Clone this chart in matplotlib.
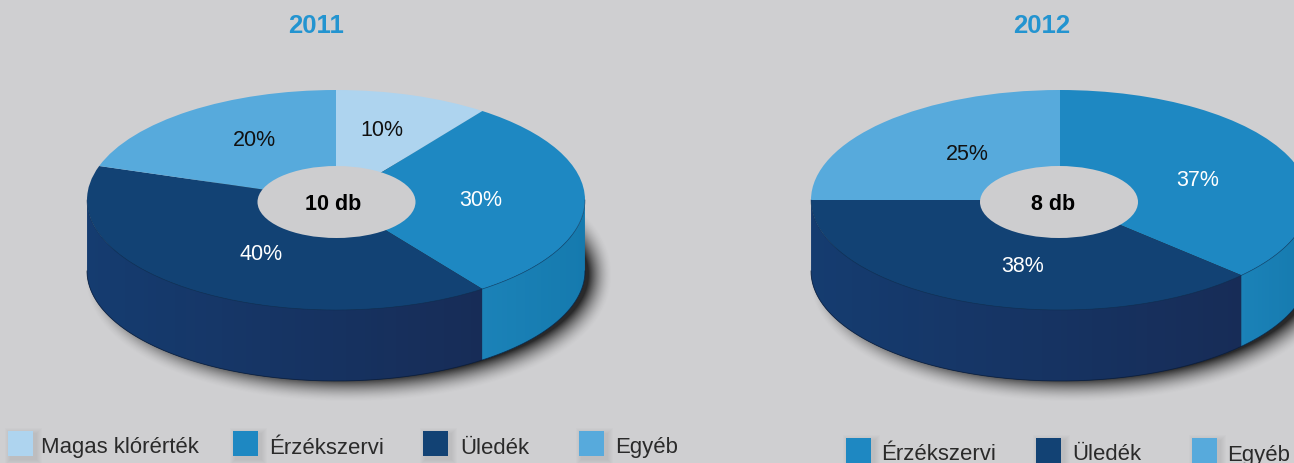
import numpy as np
import matplotlib
matplotlib.use("Agg")
import matplotlib.pyplot as plt
from matplotlib.patches import Ellipse, Rectangle

plt.rcParams['font.family'] = ['Liberation Sans', 'DejaVu Sans']

W, H = 1294, 463
BG = "#cfcfd1"

labels_2011 = ["Magas klórérték", "Érzékszervi", "Üledék", "Egyéb"]
values_2011 = [10, 30, 40, 20]
colors_2011 = ["#aed4ef", "#1e88c2", "#124274", "#57aadc"]
total_2011 = "10 db"

labels_2012 = ["Érzékszervi", "Üledék", "Egyéb"]
values_2012 = [37, 38, 25]
colors_2012 = ["#1e88c2", "#124274", "#57aadc"]
total_2012 = "8 db"

# side colours of each slice (left end, right end)
side_colors = {"#1e88c2": ("#1b82b8", "#157aae"), "#124274": ("#153c70", "#172c57"),
               "#57aadc": ("#4a9ccc", "#4a9ccc"), "#aed4ef": ("#9cc6e4", "#9cc6e4")}

fig = plt.figure(figsize=(W / 100, H / 100), dpi=100, facecolor=BG)
base = fig.add_axes([0, 0, 1, 1])
base.set_xlim(0, W)
base.set_ylim(H, 0)
base.axis("off")


def mix(a, b, t):
    a = np.array(matplotlib.colors.to_rgb(a))
    b = np.array(matplotlib.colors.to_rgb(b))
    return tuple(a + (b - a) * t)


def shadow(cx, cy, rx, ry, fade, strength):
    # blurred ellipse as an rgba image
    x0, x1 = int(cx - rx - fade - 4), int(cx + rx + fade + 4)
    y0, y1 = int(cy - ry - fade - 4), int(cy + ry + fade + 4)
    xx, yy = np.meshgrid(np.arange(x0, x1), np.arange(y0, y1))
    dx, dy = xx - cx, yy - cy
    f = np.sqrt((dx / rx) ** 2 + (dy / ry) ** 2) + 1e-6
    grad = np.sqrt((dx / rx ** 2) ** 2 + (dy / ry ** 2) ** 2) / f + 1e-9
    dist = (f - 1) / grad
    a = np.clip(1 - dist / fade, 0, 1) ** 1.7 * strength
    img = np.zeros(a.shape + (4,))
    img[..., 3] = a
    base.imshow(img, extent=(x0, x1, y1, y0), aspect="auto", zorder=1, interpolation="bilinear")
    base.set_xlim(0, W)
    base.set_ylim(H, 0)


def draw_pie(cx, values, colors, title, title_x, total, total_x, hole_x, pct_pos, pct_colors):
    rx, ry, depth = 249, 110, 71
    cy = 200
    shadow(cx + 12, cy + depth + 3, 240, 104, 24, 0.8)

    ax = fig.add_axes([0, 0, 1, 1])
    ax.patch.set_alpha(0)
    wedges, _ = ax.pie(values, colors=colors, startangle=90, counterclock=False,
                       radius=1, center=(0, 0), wedgeprops={"linewidth": 0})
    ax.set_aspect("auto")
    ax.set_xlim(-cx / rx, (W - cx) / rx)
    ax.set_ylim((cy - H) / ry, cy / ry)
    ax.axis("off")

    # side wall of the cylinder, strips overlap the next one so no gaps show
    d = depth / ry
    edges = np.cumsum([0] + values) / sum(values) * 2 * np.pi
    for k, col in enumerate(colors):
        a0, a1 = max(edges[k], np.pi / 2), min(edges[k + 1], 3 * np.pi / 2)
        if a1 <= a0:
            continue
        left, right = side_colors[col]
        steps = np.linspace(a0, a1, max(int((a1 - a0) * 40), 2))
        x_lo, x_hi = np.sin(a1), np.sin(a0)
        for i in range(len(steps) - 1):
            s = np.linspace(steps[i], steps[min(i + 2, len(steps) - 1)], 8)
            t = (np.sin(steps[i]) + np.sin(steps[i + 1])) / 2
            t = (t - x_lo) / max(x_hi - x_lo, 1e-6)
            c = mix(left, right, t)
            xs = np.concatenate([np.sin(s), np.sin(s[::-1])])
            ys = np.concatenate([np.cos(s), np.cos(s[::-1]) - d])
            ax.fill(xs, ys, color=c, lw=0, zorder=0.5 + i * 1e-3)
    # thin dark rims
    th = np.linspace(np.pi / 2, 3 * np.pi / 2, 200)
    ax.plot(np.sin(th), np.cos(th), color="#0c2c50", lw=0.5, alpha=0.6, zorder=3)
    ax.plot(np.sin(th), np.cos(th) - d, color="#0a1c38", lw=0.6, alpha=0.8, zorder=3)

    base.set_zorder(0)
    ax.set_zorder(1)
    over = fig.add_axes([0, 0, 1, 1])
    over.set_xlim(0, W)
    over.set_ylim(H, 0)
    over.axis("off")
    over.patch.set_alpha(0)
    over.set_zorder(2)
    over.add_patch(Ellipse((hole_x, 202), 158, 72, fc="#cdcdcf", ec="none"))
    over.text(total_x, 204, total, fontsize=15.5, fontweight="bold", color="black", ha="center", va="center")
    over.text(title_x, 26, title, fontsize=18.5, fontweight="bold", color="#2394d0", ha="center", va="center")
    for (px, py), v, c in zip(pct_pos, values, pct_colors):
        over.text(px, py, "%d%%" % v, fontsize=15.5, color=c, ha="center", va="center")
    return over


o1 = draw_pie(336, values_2011, colors_2011, "2011", 316, total_2011, 333, 336.5,
              [(382, 130), (481, 200), (261, 254), (254, 140)],
              ["#111111", "white", "white", "#111111"])
o2 = draw_pie(1060, values_2012, colors_2012, "2012", 1042, total_2012, 1053, 1059,
              [(1198, 180), (1023, 266), (967, 154)],
              ["white", "white", "#111111"])


def legend(ax, xs, text_xs, y, labels, colors):
    for x, tx, lab, col in zip(xs, text_xs, labels, colors):
        for g in range(6, 0, -1):
            ax.add_patch(Rectangle((x + 3 - g, y + 3 - g), 25 + 2 * g, 25 + 2 * g,
                                   fc="black", ec="none", alpha=0.01))
        ax.add_patch(Rectangle((x, y), 25, 25, fc=col, ec="none"))
        ax.text(tx, y + 17, lab, fontsize=15.9, color="#2a2a2a", ha="left", va="center")


legend(o1, [8, 233, 423, 579], [41, 269, 460, 615], 431, labels_2011, colors_2011)
legend(o2, [846, 1036, 1192], [881, 1072, 1227], 438, labels_2012, colors_2012)

fig.savefig("out.png", dpi=100, facecolor=BG)
